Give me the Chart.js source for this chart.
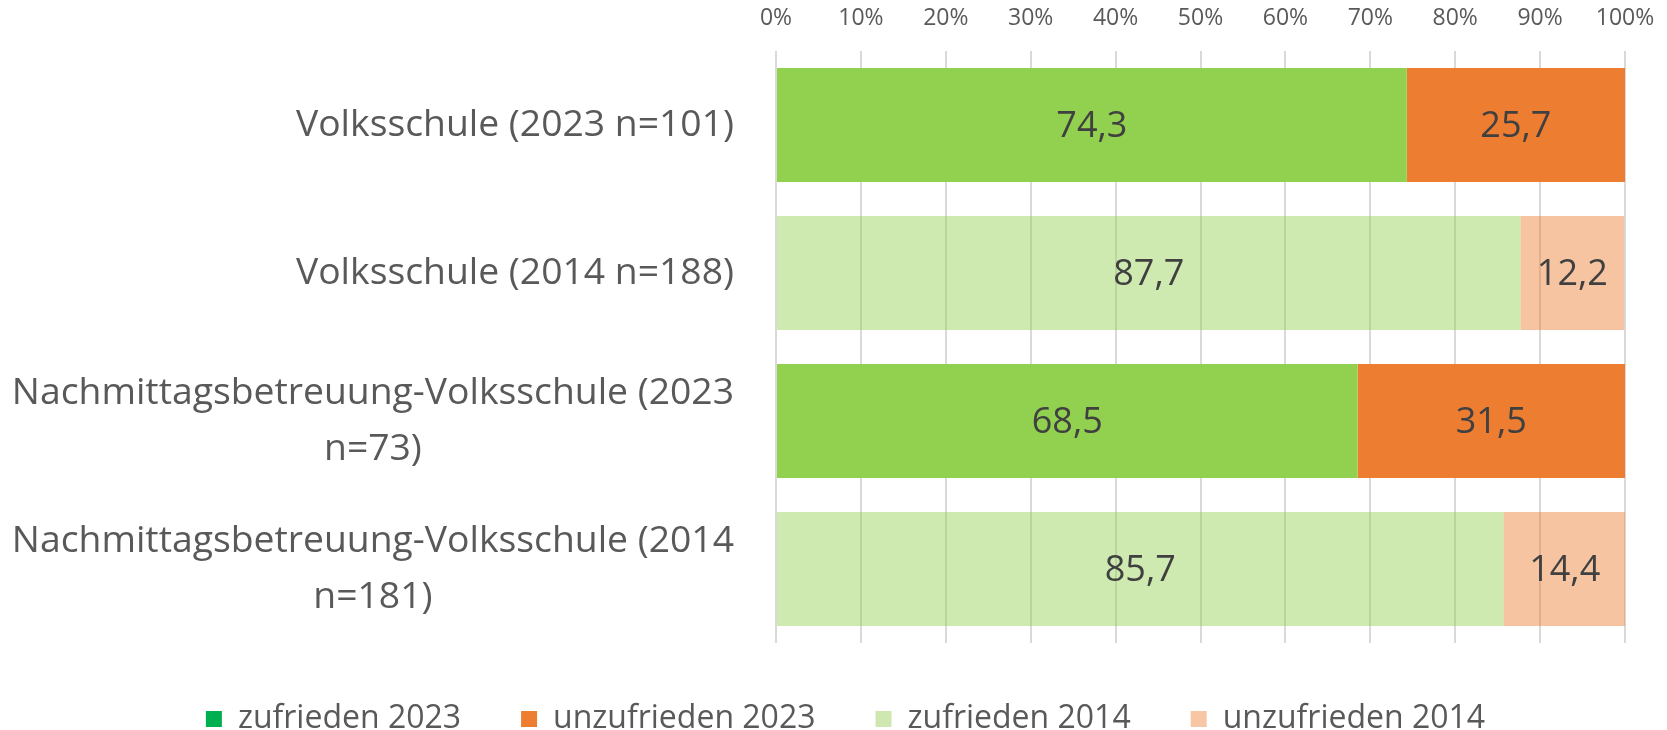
<!DOCTYPE html>
<html>
<head>
<meta charset="utf-8">
<script src="https://cdn.jsdelivr.net/npm/chart.js@4/dist/chart.umd.min.js"></script>
<style>
  body { margin: 0; background: #fff; }
  #chart { display: block; }
</style>
</head>
<body>
<canvas id="chart" width="1667" height="730"></canvas>
<script>
const categories = [
    ['Volksschule (2023 n=101)'],
    ['Volksschule (2014 n=188)'],
    ['Nachmittagsbetreuung-Volksschule (2023', 'n=73)'],
    ['Nachmittagsbetreuung-Volksschule (2014', 'n=181)']
];
const seriesNames = ['zufrieden 2023', 'unzufrieden 2023', 'zufrieden 2014', 'unzufrieden 2014'];
const zufrieden2023 = [74.3, null, 68.5, null];
const unzufrieden2023 = [25.7, null, 31.5, null];
const zufrieden2014 = [null, 87.7, null, 85.7];
const unzufrieden2014 = [null, 12.2, null, 14.4];

const barColors = ['#92D050', '#ED7D31', 'rgba(146,208,80,0.45)', 'rgba(237,125,49,0.45)'];
const legendColors = ['#00B050', '#ED7D31', '#CFE8B1', '#F7C6A5'];
const fontFamily = '"Open Sans", sans-serif';
const textGray = '#595959';

const allSeries = [zufrieden2023, unzufrieden2023, zufrieden2014, unzufrieden2014];

// numbers in the middle of each bar segment
const valueLabels = {
    id: 'valueLabels',
    afterDatasetsDraw(chart) {
        const ctx = chart.ctx;
        ctx.save();
        ctx.font = '36px ' + fontFamily;
        ctx.fillStyle = '#404040';
        ctx.textAlign = 'center';
        ctx.textBaseline = 'middle';
        chart.data.datasets.forEach((ds, i) => {
            const meta = chart.getDatasetMeta(i);
            meta.data.forEach((bar, j) => {
                const v = ds.data[j];
                if (v === null || v === undefined) return;
                const p = bar.getCenterPoint();
                ctx.fillText(v.toFixed(1).replace('.', ','), p.x, p.y + 2);
            });
        });
        ctx.restore();
    }
};

// category labels: block right-aligned to the axis, wrapped lines centred inside the block
const categoryLabels = {
    id: 'categoryLabels',
    afterDraw(chart) {
        const ctx = chart.ctx;
        const yScale = chart.scales.y;
        const rightEdge = chart.chartArea.left - 42;
        const lineH = 56;
        ctx.save();
        ctx.font = '37.3px ' + fontFamily;
        ctx.fillStyle = textGray;
        ctx.textAlign = 'center';
        ctx.textBaseline = 'middle';
        chart.data.labels.forEach((lines, i) => {
            const y = yScale.getPixelForValue(i);
            const blockW = Math.max(...lines.map(l => ctx.measureText(l).width));
            const cx = rightEdge - blockW / 2;
            lines.forEach((line, k) => {
                ctx.fillText(line, cx, y + (k - (lines.length - 1) / 2) * lineH);
            });
        });
        ctx.restore();
    }
};

new Chart(document.getElementById('chart'), {
    type: 'bar',
    data: {
        labels: categories,
        datasets: allSeries.map((vals, i) => ({
            label: seriesNames[i],
            data: vals,
            backgroundColor: barColors[i],
            borderWidth: 0,
            barPercentage: 0.77,
            categoryPercentage: 1
        }))
    },
    options: {
        indexAxis: 'y',
        responsive: false,
        animation: false,
        layout: { padding: { left: 66, right: 42, top: 0, bottom: 0 } },
        scales: {
            x: {
                position: 'top',
                stacked: true,
                min: 0,
                max: 100,
                border: { display: false },
                grid: { color: '#D9D9D9', lineWidth: 2, drawTicks: false },
                ticks: {
                    stepSize: 10,
                    padding: 19,
                    color: textGray,
                    font: { family: fontFamily, size: 23 },
                    callback: v => v + '%'
                },
                afterFit: s => {
                    s.height = 51;
                    s.paddingLeft = 0;
                    s.paddingRight = 0;
                }
            },
            y: {
                stacked: true,
                border: { display: false },
                grid: { display: false, drawTicks: false },
                ticks: { display: false },
                afterFit: s => {
                    s.width = 710;
                    s.paddingTop = 0;
                    s.paddingBottom = 0;
                }
            }
        },
        plugins: {
            tooltip: { enabled: false },
            legend: {
                position: 'bottom',
                maxHeight: 87,
                labels: {
                    boxWidth: 16,
                    boxHeight: 16,
                    padding: 60,
                    color: textGray,
                    font: { family: fontFamily, size: 32 },
                    generateLabels: chart => chart.data.datasets.map((ds, i) => ({
                        text: ds.label,
                        fillStyle: legendColors[i],
                        strokeStyle: legendColors[i],
                        lineWidth: 0,
                        fontColor: textGray,
                        datasetIndex: i
                    }))
                }
            }
        }
    },
    plugins: [valueLabels, categoryLabels]
});
</script>
</body>
</html>
